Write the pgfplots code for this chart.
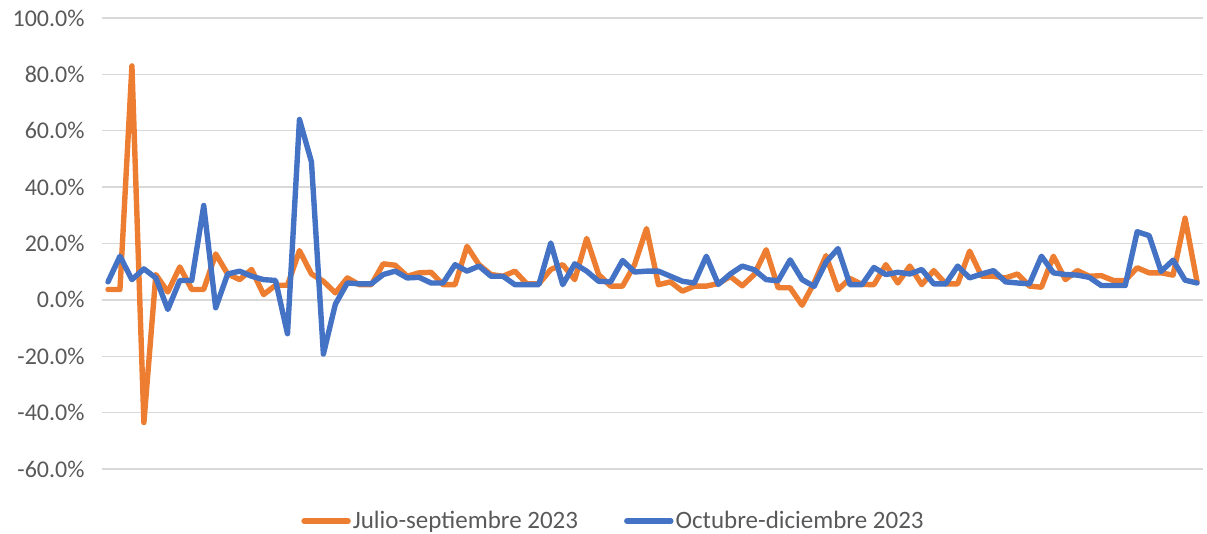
\documentclass[border=0pt]{standalone}
\usepackage{fontspec}
\setmainfont{Carlito}
\usepackage{pgfplots}
\usepackage{pgfplotstable}
\pgfplotsset{compat=1.18}
\definecolor{jul}{HTML}{ED7D31}
\definecolor{oct}{HTML}{4472C4}
\definecolor{gridc}{HTML}{D9D9D9}
\definecolor{txt}{HTML}{595959}
\pgfplotstableread{
i jul oct
0 3.7 6.4
1 3.7 15.5
2 83 7.2
3 -43.5 11
4 9.0 7.8
5 2.8 -3.4
6 11.7 6.9
7 3.7 6.9
8 3.7 33.5
9 16.3 -2.8
10 9.2 9.2
11 7.2 10.2
12 10.8 8.4
13 1.9 7.2
14 5.2 6.9
15 5.2 -12
16 17.5 64
17 9.2 49
18 6.6 -19.2
19 2.5 -1.5
20 7.8 6
21 5.4 5.7
22 5.4 5.7
23 12.8 9
24 12.3 10.2
25 8.4 7.8
26 9.6 8
27 9.8 6
28 5.4 6
29 5.4 12.5
30 19 10.2
31 12.5 12
32 9 8.4
33 8.4 8.4
34 10.2 5.4
35 5.7 5.4
36 5.7 5.4
37 10.8 20.2
38 12.5 5.4
39 7.2 12.8
40 21.8 10.2
41 9.0 6.6
42 4.9 6.4
43 4.9 14
44 12.5 9.9
45 25.3 10.2
46 5.4 10.2
47 6.4 8.4
48 3.1 6.6
49 4.9 6.0
50 4.9 15.5
51 5.8 5.5
52 8.3 9.2
53 5.0 12
54 9.0 10.7
55 17.8 7.2
56 4.3 6.8
57 4.3 14.2
58 -1.9 7.2
59 6.0 4.8
60 15.7 13.4
61 3.6 18.2
62 7.6 5.4
63 5.5 5.4
64 5.4 11.5
65 12.5 9
66 6 9.8
67 12 9.2
68 5.4 10.8
69 10.4 5.7
70 5.7 5.7
71 5.7 12
72 17.3 7.8
73 8.4 9.2
74 8.4 10.4
75 7.8 6.4
76 9.2 6
77 4.9 5.7
78 4.5 15.5
79 15.5 9.6
80 7.2 9
81 10.4 8.8
82 8.4 8
83 8.6 5.1
84 6.9 5.1
85 6.9 5.1
86 11.4 24.2
87 9.6 22.8
88 9.6 10.1
89 8.8 14.1
90 29 7
91 6.4 6
}\datatable
\begin{document}
\begin{tikzpicture}
\begin{axis}[
  name=ax,
  scale only axis, width=1101pt, height=451pt,
  xmin=-0.5, xmax=91.5, ymin=-60, ymax=100,
  ytick={-60,-40,...,100},
  xtick=\empty,
  axis line style={draw=none},
  major tick length=0pt,
  ymajorgrids, grid style={gridc, line width=1.3pt},
  yticklabel={\pgfmathprintnumber[fixed,fixed zerofill,precision=1,assume math mode=true]{\tick}\%},
  yticklabel style={font=\fontsize{24}{28}\selectfont, text=txt, xshift=-14pt},
  legend columns=2,
  legend cell align=left,
  legend style={at={(0.4646,-0.1153)}, anchor=center, draw=none, fill=none,
    font=\fontsize{25}{29}\selectfont, text=txt,
    /tikz/every even column/.append style={column sep=44pt}},
  legend image code/.code={\draw[#1] (0pt,0pt) -- (44pt,0pt);},
  every axis plot/.append style={line width=5.4pt, line join=round, line cap=round},
]
\addplot[jul, mark=none] table[x=i, y=jul] {\datatable};
\addlegendentry{Julio-septiembre 2023}
\addplot[oct, mark=none] table[x=i, y=oct] {\datatable};
\addlegendentry{Octubre-diciembre 2023}
\end{axis}
\pgfresetboundingbox
\useasboundingbox ([shift={(-102pt,-64pt)}]ax.south west) rectangle ([shift={(4pt,18pt)}]ax.north east);
\end{tikzpicture}
\end{document}
